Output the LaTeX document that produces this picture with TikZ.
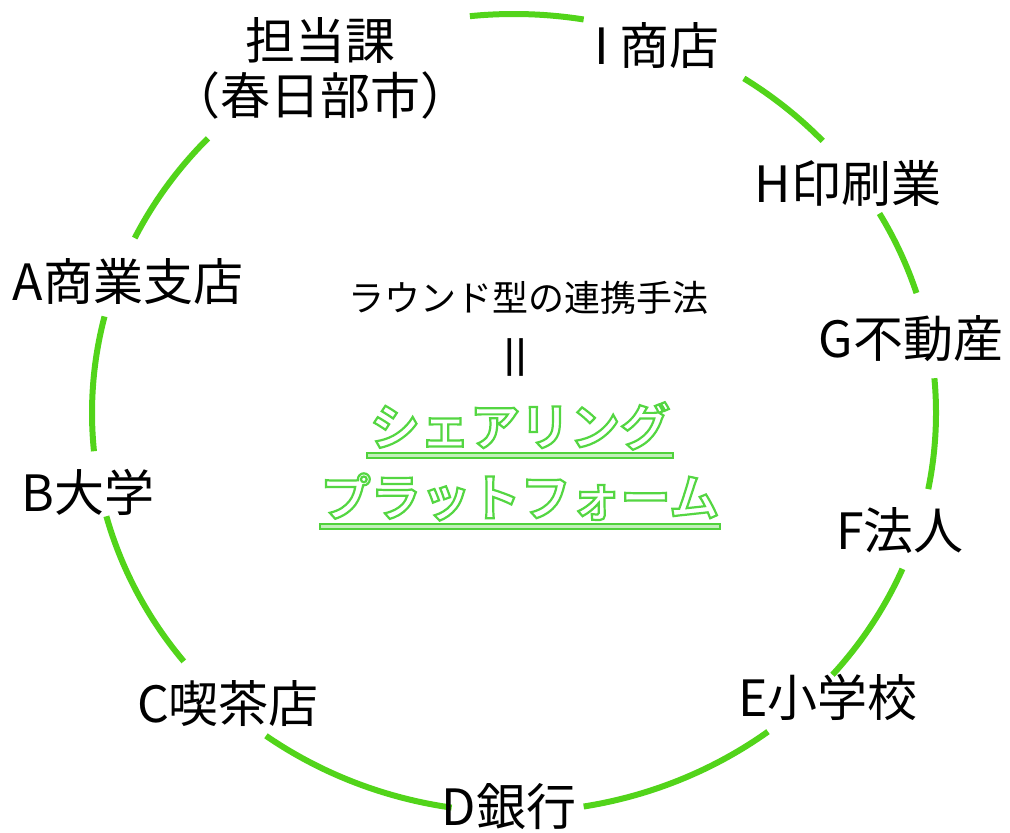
\documentclass[tikz,border=0pt]{standalone}
\usepackage{fontspec}
\newfontfamily\jp{Noto Sans CJK JP}
\newfontfamily\jpbold{Noto Sans CJK JP Bold}
\definecolor{ring}{RGB}{82,212,26}
\definecolor{glow}{RGB}{80,210,60}
\newcommand\outlined[1]{\special{pdf:literal direct 2 Tr 1.1 w 0.33 0.84 0.26 RG 1 1 1 rg}#1\special{pdf:literal direct 0 Tr 0 0 0 rg 0 0 0 RG}}
\begin{document}
\begin{tikzpicture}[x=0.5pt,y=0.5pt,
  lbl/.style={font=\jp\fontsize{25}{27.5}\selectfont, inner sep=0pt, align=center},
  outl/.style={font=\jpbold\fontsize{25}{27.5}\selectfont, inner sep=0pt},
  small/.style={font=\jp\fontsize{18}{20}\selectfont, inner sep=0pt},
  ringarc/.style={draw=ring, line width=3pt},
  uline/.style={draw=glow, fill=glow!35, line width=0.7pt}]
\useasboundingbox (0,0) rectangle (1010,-833);
\coordinate (c) at (514,-413);
\foreach \a/\b in {96/80.5, 57/43, 30/17.5, 5/-11, -23/-41, -53/-80.5, -98.5/-126, -141.5/-165, 166/185.5, 154/136.5}
  \draw[ringarc] (c) ++(\a:422 and 399) arc[start angle=\a, end angle=\b, x radius=422, y radius=399];

\node[lbl] (tanto) at (320,-68) {担当課\\（春日部市）};
\node[lbl] (I) at (657,-46) {I 商店};
\node[lbl] (H) at (848,-183) {H印刷業};
\node[lbl] (G) at (911,-339) {G不動産};
\node[lbl] (F) at (900,-531) {F法人};
\node[lbl] (E) at (828,-697) {E小学校};
\node[lbl] (D) at (509,-807) {D銀行};
\node[lbl] (C) at (228,-704) {C喫茶店};
\node[lbl] (B) at (88,-492) {B大学};
\node[lbl] (A) at (128,-282) {A商業支店};

\node[small] (method) at (528,-298) {ラウンド型の連携手法};
\node[font=\jp\fontsize{26}{28}\selectfont, inner sep=0pt, rotate=90] (eq) at (522,-358) {＝};
\node[outl] (share1) at (520,-426) {\outlined{シェアリング}};
\node[outl] (share2) at (520,-497) {\outlined{プラットフォーム}};
\draw[uline] (367,-453) rectangle (673,-458);
\draw[uline] (320,-524) rectangle (720,-529);
\end{tikzpicture}
\end{document}
